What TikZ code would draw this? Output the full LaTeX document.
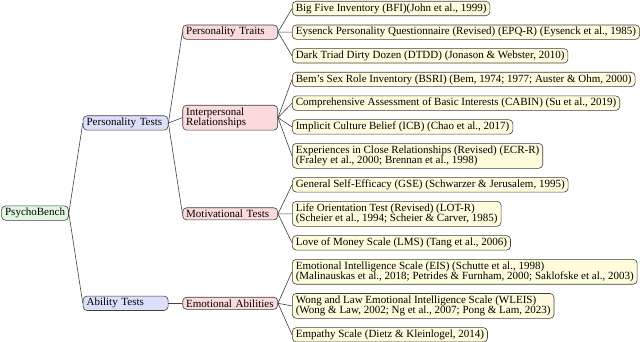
\documentclass[tikz,border=0pt]{standalone}
\usepackage{fontspec}
\setmainfont{Liberation Serif}
\usepackage{xcolor}
\usepackage{tikz}
\usetikzlibrary{positioning,calc}
\definecolor{rootgreen}{HTML}{E2F6E2}
\definecolor{catblue}{HTML}{DCDFFA}
\definecolor{subred}{HTML}{FADADA}
\definecolor{leafyellow}{HTML}{FEFCDC}
\definecolor{edgegray}{HTML}{404040}

\begin{document}
\begin{tikzpicture}[
  font=\fontsize{11}{10.5}\selectfont,
  base/.style={draw=edgegray,line width=0.6pt,rounded corners=4pt,inner xsep=3.5pt,inner ysep=2.2pt,align=left},
  root/.style={base,fill=rootgreen},
  cat/.style={base,fill=catblue,text width=78pt},
  sub/.style={base,fill=subred,text width=88pt},
  leaf/.style={base,fill=leafyellow},
  link/.style={draw=edgegray,line width=0.6pt}
]
\useasboundingbox (0pt,0pt) rectangle (640pt,-342pt);
% leaves
\node[leaf,anchor=north west] (bfi) at (292pt,-1pt) {Big Five Inventory (BFI)(John et al., 1999)};
\node[leaf,below right=8.65pt and 0pt of bfi.south west] (epq) {Eysenck Personality Questionnaire (Revised) (EPQ-R) (Eysenck et al., 1985)};
\node[leaf,below right=8.65pt and 0pt of epq.south west] (dtdd) {Dark Triad Dirty Dozen (DTDD) (Jonason \& Webster, 2010)};
\node[leaf,below right=8.65pt and 0pt of dtdd.south west] (bsri) {Bem's Sex Role Inventory (BSRI) (Bem, 1974; 1977; Auster \& Ohm, 2000)};
\node[leaf,below right=8.65pt and 0pt of bsri.south west] (cabin) {Comprehensive Assessment of Basic Interests (CABIN) (Su et al., 2019)};
\node[leaf,below right=8.65pt and 0pt of cabin.south west] (icb) {Implicit Culture Belief (ICB) (Chao et al., 2017)};
\node[leaf,below right=8.65pt and 0pt of icb.south west] (ecr) {Experiences in Close Relationships (Revised) (ECR-R)\\(Fraley et al., 2000; Brennan et al., 1998)};
\node[leaf,below right=8.65pt and 0pt of ecr.south west] (gse) {General Self-Efficacy (GSE) (Schwarzer \& Jerusalem, 1995)};
\node[leaf,below right=8.65pt and 0pt of gse.south west] (lot) {Life Orientation Test (Revised) (LOT-R)\\(Scheier et al., 1994; Scheier \& Carver, 1985)};
\node[leaf,below right=8.65pt and 0pt of lot.south west] (lms) {Love of Money Scale (LMS) (Tang et al., 2006)};
\node[leaf,below right=8.65pt and 0pt of lms.south west] (eis) {Emotional Intelligence Scale (EIS) (Schutte et al., 1998)\\(Malinauskas et al., 2018; Petrides \& Furnham, 2000; Saklofske et al., 2003)};
\node[leaf,below right=8.65pt and 0pt of eis.south west] (wleis) {Wong and Law Emotional Intelligence Scale (WLEIS)\\(Wong \& Law, 2002; Ng et al., 2007; Pong \& Lam, 2023)};
\node[leaf,below right=8.65pt and 0pt of wleis.south west] (emp) {Empathy Scale (Dietz \& Kleinlogel, 2014)};
% second level
\coordinate (traitsmid) at ($(bfi.west)!.5!(dtdd.west)$);
\coordinate (intermid) at ($(bsri.west)!.5!(ecr.west)$);
\coordinate (motivmid) at ($(gse.west)!.5!(lms.west)$);
\coordinate (emomid) at ($(eis.west)!.5!(emp.west)$);
\node[sub,left=14pt of traitsmid] (traits) {Personality Traits};
\node[sub,left=14pt of intermid] (inter) {Interpersonal\\Relationships};
\node[sub,left=14pt of motivmid] (motiv) {Motivational Tests};
\node[sub,left=14pt of emomid] (emo) {Emotional Abilities};
% first level
\coordinate (persmid) at ($(traits.west)!.5!(motiv.west)$);
\node[cat,left=14pt of persmid] (pers) {Personality Tests};
\node[cat,left=14pt of emo] (abil) {Ability Tests};
\coordinate (rootmid) at ($(pers.west)!.5!(abil.west)$);
\node[root,left=14pt of rootmid] (bench) {PsychoBench};
% edges
\draw[link] (bench.east) -- (pers.west);
\draw[link] (bench.east) -- (abil.west);
\draw[link] (pers.east) -- (traits.west);
\draw[link] (pers.east) -- (inter.west);
\draw[link] (pers.east) -- (motiv.west);
\draw[link] (abil.east) -- (emo.west);
\draw[link] (traits.east) -- (bfi.west);
\draw[link] (traits.east) -- (epq.west);
\draw[link] (traits.east) -- (dtdd.west);
\draw[link] (inter.east) -- (bsri.west);
\draw[link] (inter.east) -- (cabin.west);
\draw[link] (inter.east) -- (icb.west);
\draw[link] (inter.east) -- (ecr.west);
\draw[link] (motiv.east) -- (gse.west);
\draw[link] (motiv.east) -- (lot.west);
\draw[link] (motiv.east) -- (lms.west);
\draw[link] (emo.east) -- (eis.west);
\draw[link] (emo.east) -- (wleis.west);
\draw[link] (emo.east) -- (emp.west);
\end{tikzpicture}
\end{document}
